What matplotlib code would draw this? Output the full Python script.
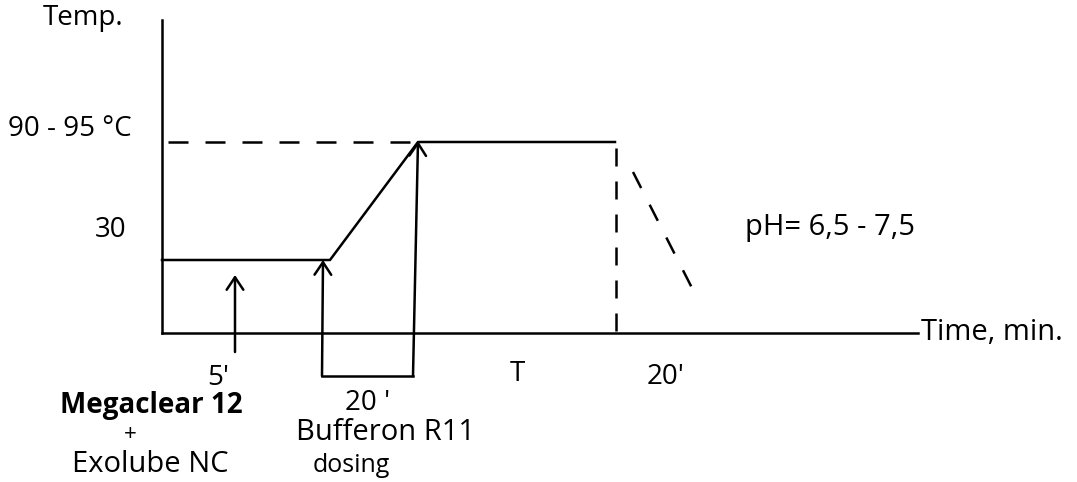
import matplotlib
matplotlib.use("Agg")
import matplotlib.pyplot as plt

# ── DATA (schematic positions in image units, y grows downward) ─────────────
axis_x0, axis_y0 = 162, 333
y_axis_top = 20
x_axis_end = 918

profile_x = [162, 330, 418, 615]
profile_y = [260, 260, 142, 142]

hold_dash_x = [168, 418]
hold_dash_y = [142, 142]
stop_dash_x = [616, 616]
stop_dash_y = [148, 333]
cool_dash_x = [633, 692]
cool_dash_y = [172, 288]

# arrows: (x_tail, y_tail, x_head, y_head)
arrow_mega = (235, 352, 235, 275)
arrow_buff = (322, 376, 323, 260)
arrow_top = (413, 376, 418, 141)
bracket_x = [322, 413]
bracket_y = [376, 376]

labels = [
    ("Temp.", 83, 18, 20, "normal", "center"),
    ("90 - 95 °C", 70, 129, 20, "normal", "center"),
    ("30", 111, 230, 20, "normal", "center"),
    ("5'", 218, 378, 20, "normal", "center"),
    ("Megaclear 12", 151, 406, 20, "bold", "center"),
    ("+", 130, 434, 16, "normal", "center"),
    ("Exolube NC", 150, 465, 21, "normal", "center"),
    ("20 '", 368, 403, 20, "normal", "center"),
    ("Bufferon R11", 386, 432, 21, "normal", "center"),
    ("dosing", 351, 466, 18, "normal", "center"),
    ("T", 517, 374, 20, "normal", "center"),
    ("20'", 666, 377, 20, "normal", "center"),
    ("pH= 6,5 - 7,5", 830, 227, 21, "normal", "center"),
    ("Time, min.", 921, 333, 21, "normal", "left"),
]

# ── PLOT ─────────────────────────────────────────────────────────────────────
plt.rcParams["font.family"] = ["Open Sans", "DejaVu Sans"]
fig = plt.figure(figsize=(10.77, 4.82), dpi=100)
ax = fig.add_axes([0, 0, 1, 1])
ax.set_xlim(0, 1077)
ax.set_ylim(482, 0)
ax.axis("off")

lw = 1.8
ax.plot([axis_x0, axis_x0], [y_axis_top, axis_y0], color="black", lw=lw)
ax.plot([axis_x0, x_axis_end], [axis_y0, axis_y0], color="black", lw=lw)
ax.plot(profile_x, profile_y, color="black", lw=lw)

ax.plot(hold_dash_x, hold_dash_y, color="black", lw=lw, linestyle=(0, (8, 6.8)))
ax.plot(stop_dash_x, stop_dash_y, color="black", lw=lw, linestyle=(0, (7.2, 6)))
ax.plot(cool_dash_x, cool_dash_y, color="black", lw=lw, linestyle=(0, (7.2, 7.5)))

ax.plot(bracket_x, bracket_y, color="black", lw=lw)
for x0, y0, x1, y1 in (arrow_mega, arrow_buff, arrow_top):
    ax.annotate("", xy=(x1, y1), xytext=(x0, y0),
                arrowprops=dict(arrowstyle="->,head_width=0.3,head_length=0.45",
                                color="black", lw=lw,
                                shrinkA=0, shrinkB=0, mutation_scale=20))

for txt, x, y, size, weight, ha in labels:
    ax.text(x, y, txt, fontsize=size, fontweight=weight, ha=ha, va="center")

fig.savefig("out.png", dpi=100, facecolor="white")
